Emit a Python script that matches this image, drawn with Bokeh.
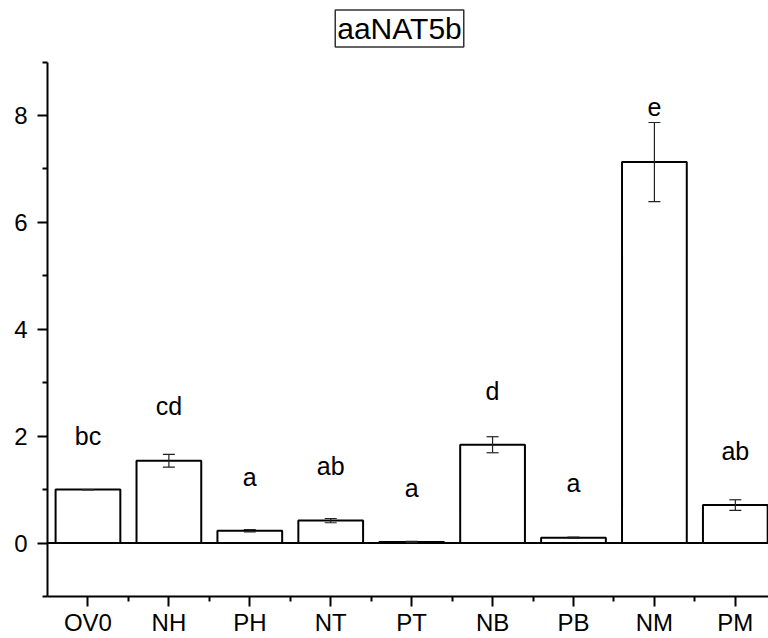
from bokeh.plotting import figure
from bokeh.models import (ColumnDataSource, FixedTicker, Span, Whisker, TeeHead, Range1d, Label)
from bokeh.embed import file_html
from bokeh.resources import INLINE
from bokeh.core.properties import value

categories = ["OV0", "NH", "PH", "NT", "PT", "NB", "PB", "NM", "PM"]
means = [1.0, 1.54, 0.23, 0.42, 0.02, 1.84, 0.10, 7.13, 0.71]
errors = [0.0, 0.12, 0.02, 0.04, 0.01, 0.15, 0.01, 0.74, 0.10]
letters = ["bc", "cd", "a", "ab", "a", "d", "a", "e", "ab"]
letter_y = [2.0, 2.56, 1.24, 1.44, 1.03, 2.85, 1.13, 8.16, 1.72]
y_ticks = [0, 2, 4, 6, 8]
y_minor = [-1, 1, 3, 5, 7, 9]
title_text = "aaNAT5b"

FONT = "Liberation Sans"
xs = list(range(1, len(categories) + 1))

src = ColumnDataSource(dict(
    x=xs, top=means,
    upper=[m + e for m, e in zip(means, errors)],
    lower=[m - e for m, e in zip(means, errors)],
    letter=letters, ly=letter_y,
))

# frame reaches the top of the canvas; the y axis line itself stops at 9
p = figure(width=768, height=638, output_backend="svg", toolbar_location=None,
           x_range=Range1d(0.5, 9.41), y_range=Range1d(-1, 10.153),
           min_border_left=47, min_border_right=0, min_border_top=0,
           min_border_bottom=38)
p.outline_line_color = None
p.xgrid.visible = False
p.ygrid.visible = False
p.background_fill_color = "white"
p.border_fill_color = "white"

p.vbar(x="x", top="top", bottom=0, width=0.8, source=src,
       fill_color="white", line_color="black", line_width=2)

err = Whisker(base="x", upper="upper", lower="lower", source=src,
              line_color="#222222", line_width=1.2, level="overlay",
              upper_head=TeeHead(size=12, line_color="#222222", line_width=1.2),
              lower_head=TeeHead(size=12, line_color="#222222", line_width=1.2))
p.add_layout(err)

p.add_layout(Span(location=0, dimension="width", line_color="black", line_width=2))

p.text(x="x", y="ly", text="letter", source=src, text_align="center",
       text_baseline="alphabetic", text_font=value(FONT),
       text_font_size="25px", text_color="black")

title = Label(x=4.85, y=9.63, text=title_text, text_align="center",
              text_baseline="middle", text_font=FONT, text_font_size="30px",
              text_color="black", border_line_color="#333333", border_line_width=1.5,
              background_fill_color="white", padding=2)
p.add_layout(title)

# axes
p.yaxis.ticker = FixedTicker(ticks=y_ticks, minor_ticks=y_minor)
p.yaxis.bounds = (-1, 9)
p.xaxis.ticker = FixedTicker(ticks=xs, minor_ticks=[x + 0.5 for x in xs])
p.xaxis.major_label_overrides = {x: c for x, c in zip(xs, categories)}
for ax in (p.xaxis[0], p.yaxis[0]):
    ax.axis_line_width = 2
    ax.axis_line_color = "black"
    ax.major_tick_line_width = 2
    ax.minor_tick_line_width = 2
    ax.major_tick_line_color = "black"
    ax.minor_tick_line_color = "black"
    ax.major_tick_out = 10
    ax.major_tick_in = 0
    ax.minor_tick_out = 5
    ax.minor_tick_in = 0
    ax.major_label_text_font = FONT
    ax.major_label_text_font_size = "24px"
    ax.major_label_text_color = "black"
p.yaxis.major_label_standoff = 10
p.xaxis.major_label_standoff = 2

open("out.html", "w").write(file_html(p, INLINE))
